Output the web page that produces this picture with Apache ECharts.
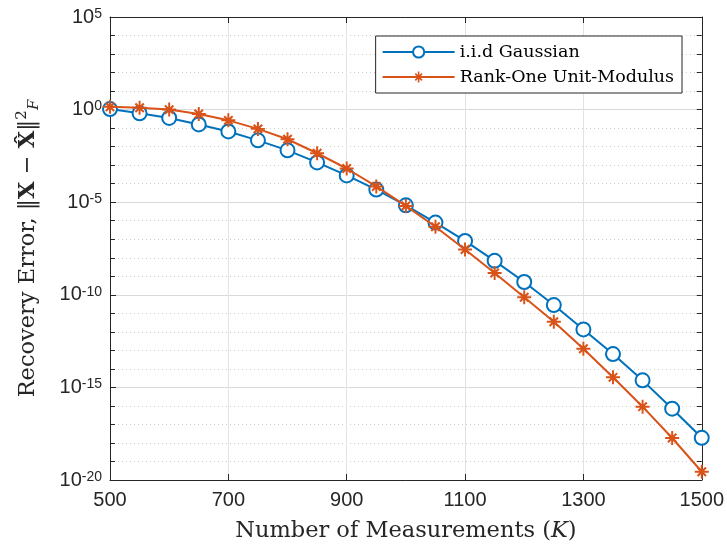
<!DOCTYPE html>
<html><head><meta charset="utf-8">
<script src="https://cdn.jsdelivr.net/npm/echarts@6/dist/echarts.min.js"></script>
<style>html,body{margin:0;padding:0;background:#fff}#c{width:727px;height:548px}</style>
</head><body><div id="c"></div>
<script>
var measurements = [500,550,600,650,700,750,800,850,900,950,1000,1050,1100,1150,1200,1250,1300,1350,1400,1450,1500];
var gaussianErr = [1.07,0.63,0.355,0.158,0.066,0.0219,6.3e-3,1.41e-3,2.8e-4,4.8e-5,6.8e-6,7.9e-7,8.1e-8,6.8e-9,4.9e-10,2.8e-11,1.35e-12,6.3e-14,2.4e-15,7.1e-17,1.9e-18];
var rankOneErr = [1.41,1.26,1.0,0.575,0.263,0.091,0.0251,4.4e-3,6.6e-4,7.1e-5,6.3e-6,4.7e-7,2.8e-8,1.5e-9,7.4e-11,3.5e-12,1.23e-13,3.5e-15,9.1e-17,1.86e-18,2.8e-20];
var seriesNames = ['i.i.d Gaussian','Rank-One Unit-Modulus'];
var xTicks = {min:500,max:1500,step:200};
var yExpRange = {min:-20,max:5,major:5};

var blue = '#0072BD', orange = '#D95319', axisCol = '#262626';
var star = 'path://M0,8.6L20,8.6L20,11.4L0,11.4Z M8.6,0L11.4,0L11.4,20L8.6,20Z M2.94,5.06L5.06,2.94L17.06,14.94L14.94,17.06Z M14.94,2.94L17.06,5.06L5.06,17.06L2.94,14.94Z';
var serif = '"DejaVu Serif","Liberation Serif",serif';
var sans = '"Liberation Sans",Arial,sans-serif';

function pairs(ys){ return measurements.map(function(x,i){return [x, ys[i]];}); }

var chart = echarts.init(document.getElementById('c'), null, {renderer:'canvas'});
chart.setOption({
  animation:false,
  backgroundColor:'#fff',
  grid: {left:110,right:24,top:17,bottom:65},
  legend: {
    right: 45, top: 36, orient:'vertical',
    backgroundColor:'#fff', borderColor:'#262626', borderWidth:1, borderRadius:0,
    padding:[7,8,7,6], itemGap:7, itemWidth:72, itemHeight:14,
    textStyle:{fontFamily:serif,fontSize:17.5,color:'#000'},
    data:[{name:seriesNames[0]},{name:seriesNames[1]}]
  },
  xAxis: [{
    type:'value', position:'bottom', min:xTicks.min, max:xTicks.max, interval:xTicks.step,
    axisLine:{onZero:false,lineStyle:{color:axisCol,width:1}},
    axisTick:{inside:true,length:6,lineStyle:{color:axisCol}},
    axisLabel:{fontFamily:sans,fontSize:20,color:axisCol,margin:10,formatter:function(v){return String(v);}},
    splitLine:{show:true,lineStyle:{color:'#e3e3e3',width:1}},
    name:'Number of Measurements ({i|K})', nameLocation:'middle', nameGap:40,
    nameTextStyle:{fontFamily:serif,fontSize:22.5,color:'#262626',rich:{i:{fontFamily:serif,fontStyle:'italic',fontSize:22.5}}}
  },{
    type:'value', position:'top', min:xTicks.min, max:xTicks.max, interval:xTicks.step,
    axisLine:{show:true,onZero:false,lineStyle:{color:axisCol}},
    axisTick:{inside:true,length:6,lineStyle:{color:axisCol}},
    axisLabel:{show:false}, splitLine:{show:false}
  }],
  yAxis: [{
    type:'log', logBase:10, position:'left',
    min:Math.pow(10,yExpRange.min), max:Math.pow(10,yExpRange.max), interval:yExpRange.major,
    axisLine:{show:true,onZero:false,lineStyle:{color:axisCol}},
    axisTick:{inside:true,length:6,lineStyle:{color:axisCol}},
    axisLabel:{fontFamily:sans,fontSize:20,color:axisCol,margin:8,
      formatter:function(v){ var e=Math.round(Math.log(v)/Math.LN10); return '{b|10}{s|'+e+'}'; },
      rich:{b:{fontFamily:sans,fontSize:20,color:axisCol,verticalAlign:'bottom'},
            s:{fontFamily:sans,fontSize:14,color:axisCol,verticalAlign:'top',padding:[0,0,6,0]}}},
    splitLine:{show:true,lineStyle:{color:'#dedede',width:1}},
    name:'Recovery Error, \u2016{b|X} \u2212 {b|X\u0302}\u2016{s|2}{f|F}', nameLocation:'middle', nameGap:68,
    nameTextStyle:{fontFamily:serif,fontSize:22.5,color:'#262626',
      rich:{b:{fontFamily:serif,fontWeight:'bold',fontSize:22.5},
            s:{fontFamily:serif,fontSize:15,padding:[0,0,12,0]},
            f:{fontFamily:serif,fontStyle:'italic',fontSize:15,padding:[12,0,0,0]}}}
  },{
    type:'value', position:'right', min:yExpRange.min, max:yExpRange.max, interval:1,
    axisLine:{show:true,onZero:false,lineStyle:{color:axisCol}},
    axisTick:{inside:true,length:5,lineStyle:{color:axisCol}},
    axisLabel:{show:false},
    splitLine:{show:true,lineStyle:{color:'#cfcfcf',type:[1,3],width:1}}
  },{
    type:'value', position:'left', min:yExpRange.min, max:yExpRange.max, interval:1,
    axisLine:{show:false,onZero:false},
    axisTick:{inside:true,length:5,lineStyle:{color:axisCol}},
    axisLabel:{show:false}, splitLine:{show:false}
  }],
  series: [{
    name:seriesNames[0], type:'line', xAxisIndex:0, yAxisIndex:0, data:pairs(gaussianErr),
    symbol:'emptyCircle', symbolSize:14, showAllSymbol:true,
    lineStyle:{color:blue,width:2}, itemStyle:{color:blue,borderColor:blue,borderWidth:2}, z:3
  },{
    name:seriesNames[1], type:'line', xAxisIndex:0, yAxisIndex:0, data:pairs(rankOneErr),
    symbol:star, symbolSize:14, showAllSymbol:true,
    lineStyle:{color:orange,width:2}, itemStyle:{color:orange}, z:4
  }]
});
</script></body></html>
